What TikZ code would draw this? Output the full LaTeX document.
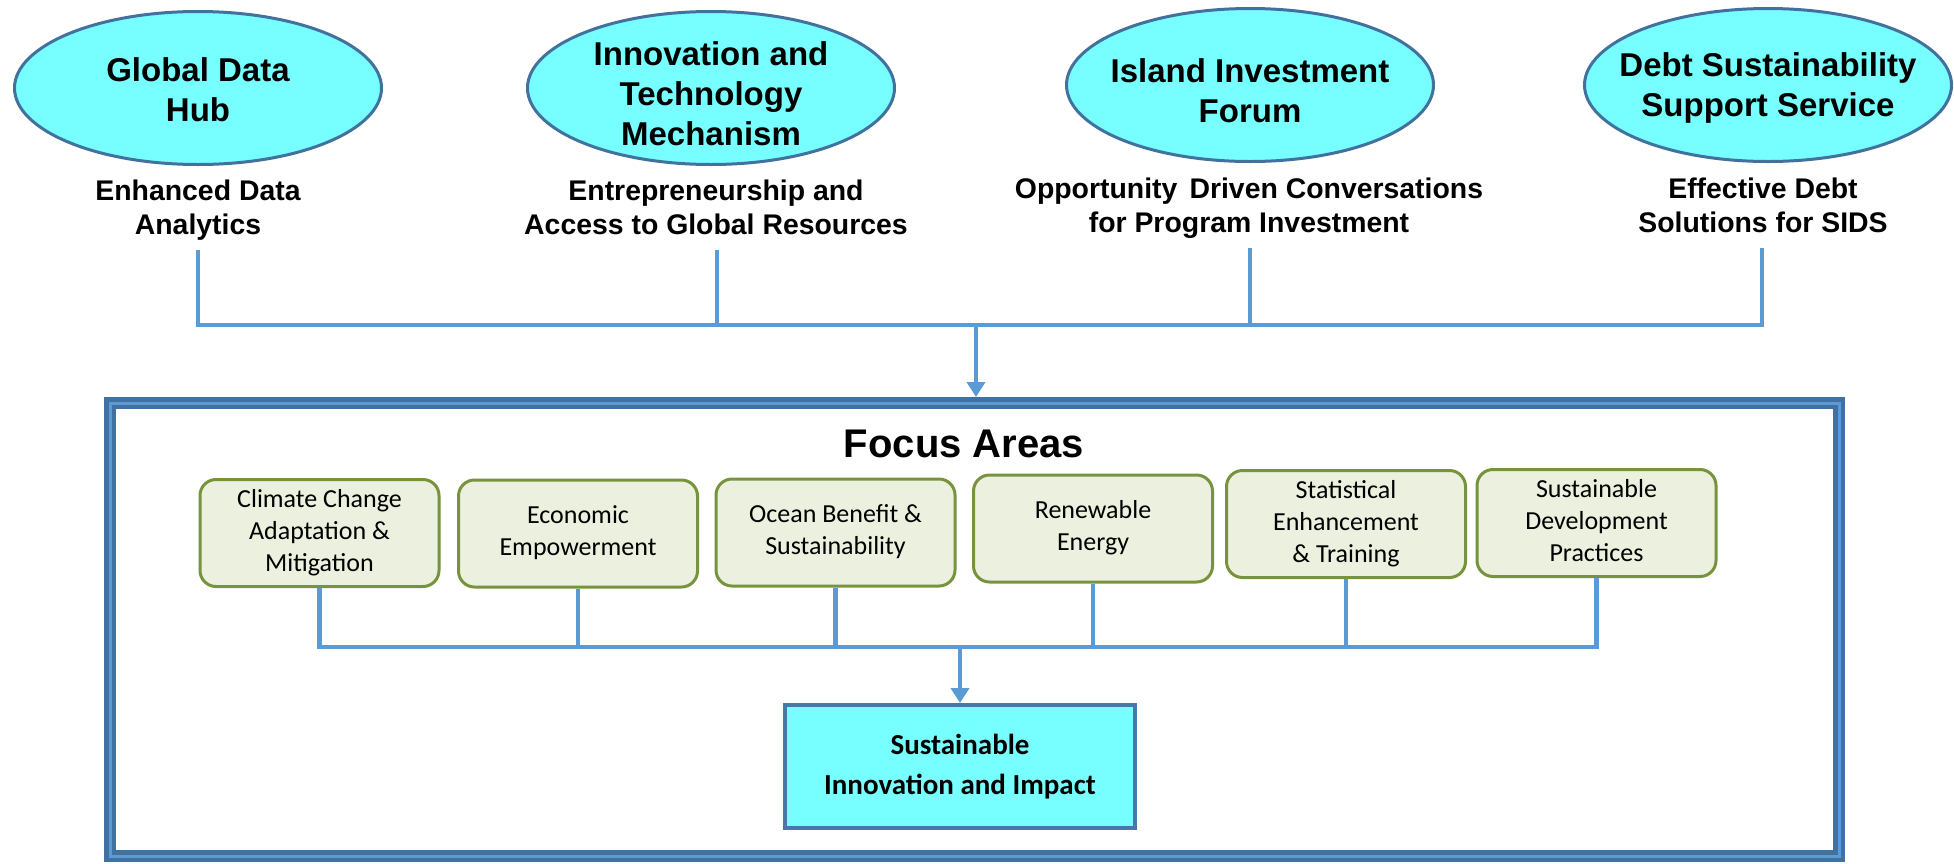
\documentclass[tikz,border=0pt]{standalone}
\usepackage{fontspec}
\setmainfont{Liberation Sans}
\newfontfamily\calibrifont{Carlito}
\usetikzlibrary{shapes.geometric,arrows.meta}
\definecolor{ellfill}{RGB}{119,255,255}
\definecolor{ellline}{RGB}{65,113,156}
\definecolor{connblue}{RGB}{91,155,213}
\definecolor{framedark}{RGB}{65,113,160}
\definecolor{framelight}{RGB}{91,155,213}
\definecolor{boxfill}{RGB}{235,241,222}
\definecolor{boxline}{RGB}{119,147,60}
\definecolor{resline}{RGB}{70,120,170}
\begin{document}
\begin{tikzpicture}[x=1pt,y=-1pt,
  ell/.style={ellipse, draw=ellline, fill=ellfill, line width=3pt, inner sep=0pt, minimum width=367pt, minimum height=153pt},
  elltext/.style={inner sep=0pt, align=center, font=\fontsize{33}{40}\selectfont\bfseries},
  subtext/.style={inner sep=0pt, align=center, font=\fontsize{28.4}{34}\selectfont\bfseries},
  focusbox/.style={rectangle, rounded corners=16pt, draw=boxline, fill=boxfill, line width=3pt, minimum width=239pt, minimum height=107pt, inner sep=0pt, align=center, font=\fontsize{26}{32}\selectfont\calibrifont},
  resultbox/.style={rectangle, draw=resline, fill=ellfill, line width=4pt, minimum width=350pt, minimum height=123pt, inner sep=0pt, align=center, font=\fontsize{29}{40}\selectfont\calibrifont\bfseries},
  outerframe/.style={rectangle, draw=framedark, line width=4.5pt, double=framelight, double distance=3pt, minimum width=1729pt, minimum height=453pt, inner sep=0pt, outer sep=6pt},
  titletext/.style={inner sep=0pt, anchor=base, font=\fontsize{40}{48}\selectfont\bfseries},
  conn/.style={draw=connblue, line width=4.5pt},
  arrowtip/.style={-{Triangle[width=18pt,length=15pt]}},
]
\useasboundingbox (0,0) rectangle (1954,863);

% frame
\node[outerframe] (frame) at (974.5,629.5) {};

% ellipses
\node[ell] (e1) at (198,88) {};
\node[elltext] (l1) at (198,93) {\strut Global Data\\\strut Hub};
\node[ell] (e2) at (711,88) {};
\node[elltext] (l2) at (711,97) {\strut Innovation and\\\strut Technology\\\strut Mechanism};
\node[ell] (e3) at (1250,85) {};
\node[elltext] (l3) at (1250,94) {\strut Island Investment\\\strut Forum};
\node[ell] (e4) at (1768,85) {};
\node[elltext] (l4) at (1768,88) {\strut Debt Sustainability\\\strut Support Service};

% sub texts
\node[subtext] (t1) at (198,210.2) {\strut Enhanced Data\\\strut Analytics};
\node[subtext] (t2) at (716,210.2) {\strut Entrepreneurship and\\\strut Access to Global Resources};
\node[subtext] (t3) at (1249,208.2) {\strut Opportunity\hspace{0.15em} Driven Conversations\\\strut for Program Investment};
\node[subtext] (t4) at (1763,208.2) {\strut Effective Debt\\\strut Solutions for SIDS};

% top bus
\coordinate (topbus) at (976,325);
\draw[conn] ([yshift=-6pt]t1.south) |- (topbus);
\draw[conn] ([yshift=-6pt,xshift=1pt]t2.south) |- (topbus);
\draw[conn] ([yshift=-6pt,xshift=1pt]t3.south) |- (topbus);
\draw[conn] ([yshift=-6pt,xshift=-1pt]t4.south) |- (topbus);
\draw[conn,arrowtip] (topbus) -- (topbus |- frame.north);

% title
\node[titletext] (title) at (964,457) {Focus Areas};

% focus boxes
\node[focusbox] (b1) at (319.5,533) {\strut Climate Change\\\strut Adaptation \&\\\strut Mitigation};
\node[focusbox] (b2) at (578,533.5) {\strut Economic\\\strut Empowerment};
\node[focusbox] (b3) at (835.5,532.5) {\strut Ocean Benefit \&\\\strut Sustainability};
\node[focusbox] (b4) at (1093,528.5) {\strut Renewable\\\strut Energy};
\node[focusbox] (b5) at (1346,524) {\strut Statistical\\\strut Enhancement\\\strut \& Training};
\node[focusbox] (b6) at (1596.5,523) {\strut Sustainable\\\strut Development\\\strut Practices};

% result
\node[resultbox] (res) at (960,766.5) {\strut Sustainable\\\strut Innovation and Impact};

% bottom bus
\coordinate (botbus) at (960,647);
\draw[conn] (b1.south) |- (botbus);
\draw[conn] (b2.south) |- (botbus);
\draw[conn] (b3.south) |- (botbus);
\draw[conn] (b4.south) |- (botbus);
\draw[conn] (b5.south) |- (botbus);
\draw[conn] (b6.south) |- (botbus);
\draw[conn,arrowtip] (botbus) -- (res.north);
\end{tikzpicture}
\end{document}
